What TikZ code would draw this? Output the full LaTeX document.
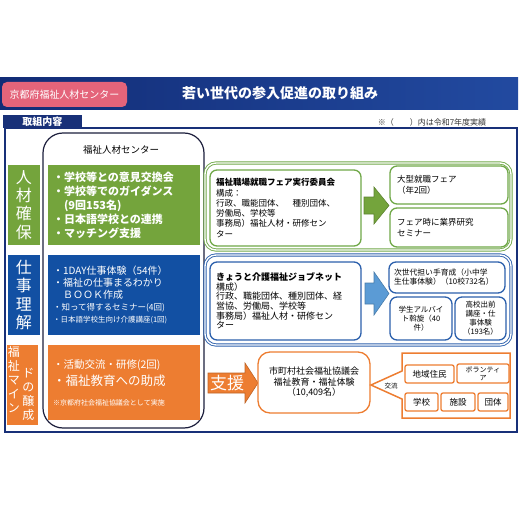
\documentclass[tikz,border=0pt]{standalone}
\usepackage{fontspec}
\setmainfont{Noto Sans CJK JP}
\newlength{\du}
\setlength{\du}{1pt}
\tikzset{
  bare/.style={inner sep=0pt, outer sep=0pt},
  solidbox/.style={bare, fill=#1, text=white},
  outlinebox/.style={bare, draw=#1, fill=white, line width=1.3\du, rounded corners=7\du},
  panel/.style={draw=#1, double=white, double distance=1.4\du, line width=0.9\du, rounded corners=11\du},
  blockarrow/.style={fill=#1, draw=#1!80!black, line width=0.6\du},
}

\begin{document}
\begin{tikzpicture}
\pgftransformxscale{1.000000}
\pgftransformyscale{-1.000000}
\definecolor{navyleft}{RGB}{18,44,118}
\definecolor{navyright}{RGB}{34,74,160}
\definecolor{framec}{RGB}{24,48,120}
\definecolor{pinkc}{RGB}{228,100,122}
\definecolor{greenc}{RGB}{116,164,60}
\definecolor{gpanelc}{RGB}{112,168,72}
\definecolor{bluec}{RGB}{18,80,163}
\definecolor{bpanelc}{RGB}{44,96,172}
\definecolor{lightbluec}{RGB}{91,155,213}
\definecolor{orangec}{RGB}{237,125,49}
\definecolor{hubc}{RGB}{28,30,60}
\useasboundingbox (0\du,0\du) rectangle (520\du,519\du);
% header
\node[bare, left color=navyleft, right color=navyright, minimum width=518\du, minimum height=32\du] (banner) at (259\du,94\du) {};
\node[bare, text=white, font=\fontsize{14}{16}\selectfont\bfseries] (title) at (280\du,93\du) {若い世代の参入促進の取り組み};
\node[solidbox=pinkc, rounded corners=5\du, minimum width=125\du, minimum height=25\du, font=\fontsize{10}{12}\selectfont] (kyotocentre) at (64.5\du,94.5\du) {京都府福祉人材センター};
\node[bare, draw=framec, line width=1.4\du, minimum width=512\du, minimum height=304\du] (frame) at (261\du,280\du) {};
\node[solidbox=framec, minimum width=79\du, minimum height=13\du, font=\fontsize{10}{11}\selectfont\bfseries] (tab) at (42.5\du,121.5\du) {取組内容};
\node[bare, text=black!80, font=\fontsize{8}{9}\selectfont] (note) at (432\du,122\du) {※（　　）内は令和7年度実績};
% left labels
\node[solidbox=greenc, minimum width=32\du, minimum height=80\du, align=center, font=\fontsize{16}{18.3}\selectfont] (secure) at (24\du,205\du) {人\\材\\確\\保};
\node[solidbox=bluec, minimum width=32\du, minimum height=80\du, align=center, font=\fontsize{16}{18.3}\selectfont] (understand) at (24\du,295\du) {仕\\事\\理\\解};
\node[solidbox=orangec, minimum width=31\du, minimum height=80\du] (mind) at (22.5\du,385\du) {};
\node[bare, text=white, align=center, font=\fontsize{12}{14}\selectfont] (mindleft) at (14\du,380\du) {福\\祉\\マ\\イ\\ン};
\node[bare, text=white, align=center, font=\fontsize{12}{14}\selectfont] (mindright) at (28.5\du,394\du) {ド\\の\\醸\\成};
% centre column
\node[bare, draw=hubc, line width=1.2\du, rounded corners=20\du, minimum width=161\du, minimum height=295\du] (hub) at (123.5\du,280.5\du) {};
\node[bare, font=\fontsize{9.5}{11}\selectfont] (hubtitle) at (121\du,150\du) {福祉人材センター};
\node[solidbox=greenc, minimum width=152\du, minimum height=80\du, text width=142\du, align=left, font=\fontsize{11}{14}\selectfont\bfseries] (recruit) at (124\du,205\du) {・学校等との意見交換会\\・学校等でのガイダンス\\　(9回153名)\\・日本語学校との連携\\・マッチング支援};
\node[solidbox=bluec, minimum width=152\du, minimum height=80\du, text width=142\du, align=left, font=\fontsize{10}{12.2}\selectfont] (jobinfo) at (124\du,295\du) {・1DAY仕事体験（54件）\\・福祉の仕事まるわかり\\　ＢＯＯＫ作成\\{\fontsize{8.5}{12.2}\selectfont ・知って得するセミナー(4回)}\\{\fontsize{7.5}{12.2}\selectfont ・日本語学校生向け介護講座(1回)}};
\node[solidbox=orangec, minimum width=152\du, minimum height=75\du, text width=142\du, align=left, font=\fontsize{10.5}{17}\selectfont] (mindlist) at (124\du,382.5\du) {・活動交流・研修(2回)\\{\fontsize{12.5}{17}\selectfont ・福祉教育への助成}\\[3\du]{\fontsize{7}{9}\selectfont ※京都府社会福祉協議会として実施}};
% fair panel
\node[bare, panel=gpanelc, minimum width=306\du, minimum height=87\du] (fairpanel) at (358\du,206.5\du) {};
\node[outlinebox=gpanelc, minimum width=151\du, minimum height=76\du, text width=139\du, align=left, font=\fontsize{8.5}{10.3}\selectfont] (faircommittee) at (285.5\du,208\du) {{\bfseries 福祉職場就職フェア実行委員会}\\構成：\\行政、職能団体、　種別団体、\\労働局、学校等\\事務局）福祉人材・研修セン\\ター};
\node[outlinebox=gpanelc, minimum width=118\du, minimum height=38\du, text width=104\du, align=left, font=\fontsize{8.5}{11}\selectfont] (bigfair) at (449\du,185\du) {大型就職フェア\\（年2回）};
\node[outlinebox=gpanelc, minimum width=118\du, minimum height=39\du, text width=104\du, align=left, font=\fontsize{8.5}{11}\selectfont] (seminar) at (449\du,227.5\du) {フェア時に業界研究\\セミナー};
\filldraw[blockarrow=greenc] (364\du,197\du) -- (374\du,197\du) -- (374\du,187\du) -- (389\du,205.5\du) -- (374\du,224\du) -- (374\du,214\du) -- (364\du,214\du) -- cycle;
% jobnet panel
\node[bare, panel=bpanelc, minimum width=306\du, minimum height=90\du] (jobpanel) at (358\du,300\du) {};
\node[outlinebox=bpanelc, minimum width=151\du, minimum height=78\du, text width=139\du, align=left, font=\fontsize{9}{9.7}\selectfont] (jobnet) at (285.5\du,301\du) {{\bfseries きょうと介護福祉ジョブネット}\\構成）\\行政、職能団体、種別団体、経\\営協、労働局、学校等\\事務局）福祉人材・研修セン\\ター};
\node[outlinebox=bpanelc, minimum width=116\du, minimum height=31\du, text width=106\du, align=left, font=\fontsize{7.8}{9}\selectfont] (nextgen) at (447\du,277.5\du) {次世代担い手育成（小中学\\生仕事体験）（10校732名）};
\node[outlinebox=bpanelc, minimum width=62\du, minimum height=43\du, align=center, font=\fontsize{7.5}{8.8}\selectfont] (parttime) at (421\du,318.5\du) {学生アルバイ\\ト斡旋（40\\件）};
\node[outlinebox=bpanelc, minimum width=51\du, minimum height=43\du, align=center, font=\fontsize{7.5}{9}\selectfont] (highschool) at (480.5\du,318.5\du) {高校出前\\講座・仕\\事体験\\（193名）};
\filldraw[blockarrow=lightbluec] (365\du,283\du) -- (374\du,283\du) -- (374\du,272\du) -- (389\du,293.5\du) -- (374\du,315\du) -- (374\du,304\du) -- (365\du,304\du) -- cycle;
% support
\filldraw[blockarrow=orangec] (208\du,373\du) -- (245\du,373\du) -- (245\du,363\du) -- (258\du,383\du) -- (245\du,403\du) -- (245\du,393\du) -- (208\du,393\du) -- cycle;
\node[bare, text=white, font=\fontsize{17}{18}\selectfont] (aid) at (227\du,383\du) {支援};
\node[outlinebox=orangec, rounded corners=12\du, minimum width=112\du, minimum height=61\du, align=center, font=\fontsize{9}{10.5}\selectfont] (council) at (314\du,382.5\du) {市町村社会福祉協議会\\福祉教育・福祉体験\\（10,409名）};
\filldraw[draw=orangec, fill=white, line width=1.5\du] (402\du,353\du) -- (510\du,353\du) -- (510\du,418\du) -- (402\du,418\du) -- (402\du,399\du) -- (371\du,385\du) -- (402\du,371\du) -- cycle;
\node[bare, font=\fontsize{6.5}{7}\selectfont] (exchange) at (391\du,386\du) {交流};
\node[outlinebox=orangec, rounded corners=2\du, minimum width=49\du, minimum height=18\du, font=\fontsize{8.5}{9}\selectfont] (residents) at (429.5\du,374\du) {地域住民};
\node[outlinebox=orangec, rounded corners=2\du, minimum width=52\du, minimum height=19\du, align=center, font=\fontsize{7}{8}\selectfont] (volunteer) at (483\du,373.5\du) {ボランティ\\ア};
\node[outlinebox=orangec, rounded corners=2\du, minimum width=33\du, minimum height=18\du, font=\fontsize{8.5}{9}\selectfont] (school) at (421.5\du,402\du) {学校};
\node[outlinebox=orangec, rounded corners=2\du, minimum width=34\du, minimum height=18\du, font=\fontsize{8.5}{9}\selectfont] (facility) at (458\du,402\du) {施設};
\node[outlinebox=orangec, rounded corners=2\du, minimum width=30\du, minimum height=18\du, font=\fontsize{8.5}{9}\selectfont] (group) at (493\du,402\du) {団体};
\end{tikzpicture}
\end{document}
